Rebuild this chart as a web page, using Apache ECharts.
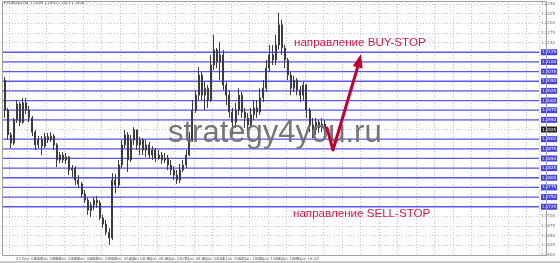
<!DOCTYPE html>
<html><head><meta charset="utf-8">
<script src="https://cdn.jsdelivr.net/npm/echarts@6/dist/echarts.min.js"></script>
<style>html,body{margin:0;padding:0;background:#fff}#c{width:560px;height:263px}</style>
</head><body><div id="c"></div>
<script>
const timeLabels = ['22 Dec 2020','23 Dec 08:00','24 Dec 08:00','28 Dec 00:00','29 Dec 00:00','30 Dec 00:00','31 Dec 00:00','4 Jan 08:00','5 Jan 08:00','6 Jan 08:00','7 Jan 08:00','8 Jan 08:00','11 Jan 16:00','12 Jan 16:00','13 Jan 16:00','14 Jan 16:00','15 Jan 16:00','19 Jan 00:00'];
const openP = [1.2053,1.1975,1.1911,1.1890,1.1950,1.1991,1.1944,1.1994,1.1975,1.1955,
1.1918,1.1885,1.1898,1.1882,1.1906,1.1898,1.1908,1.1885,1.1846,1.1859,
1.1846,1.1854,1.1820,1.1825,1.1794,1.1784,1.1758,1.1742,1.1716,1.1729,
1.1742,1.1735,1.1696,1.1680,1.1659,1.1644,1.1794,1.1781,1.1833,1.1885,
1.1911,1.1846,1.1898,1.1924,1.1885,1.1898,1.1872,1.1885,1.1859,1.1872,
1.1851,1.1859,1.1846,1.1851,1.1833,1.1820,1.1807,1.1794,1.1820,1.1833,
1.1859,1.1898,1.1975,1.2014,1.2066,1.2014,1.2032,1.2001,1.2092,1.2131,
1.2100,1.2118,1.2040,1.2014,1.1970,1.1944,1.1975,1.2014,1.1970,1.1955,
1.1937,1.1963,1.1981,1.1970,1.2007,1.2032,1.2084,1.2118,1.2105,1.2144,
1.2196,1.2136,1.2105,1.2066,1.2032,1.2053,1.2027,1.2014,1.2040,1.1975,
1.1937,1.1924,1.1944,1.1929,1.1939];
const closeP = [1.1975,1.1911,1.1890,1.1950,1.1991,1.1944,1.1994,1.1975,1.1955,1.1918,
1.1885,1.1898,1.1882,1.1906,1.1898,1.1908,1.1885,1.1846,1.1859,1.1846,
1.1854,1.1820,1.1825,1.1794,1.1784,1.1758,1.1742,1.1716,1.1729,1.1742,
1.1735,1.1696,1.1680,1.1659,1.1644,1.1794,1.1781,1.1833,1.1885,1.1911,
1.1846,1.1898,1.1924,1.1885,1.1898,1.1872,1.1885,1.1859,1.1872,1.1851,
1.1859,1.1846,1.1851,1.1833,1.1820,1.1807,1.1794,1.1820,1.1833,1.1859,
1.1898,1.1975,1.2014,1.2066,1.2014,1.2032,1.2001,1.2092,1.2131,1.2100,
1.2118,1.2040,1.2014,1.1970,1.1944,1.1975,1.2014,1.1970,1.1955,1.1937,
1.1963,1.1981,1.1970,1.2007,1.2032,1.2084,1.2118,1.2105,1.2144,1.2196,
1.2136,1.2105,1.2066,1.2032,1.2053,1.2027,1.2014,1.2040,1.1975,1.1937,
1.1924,1.1944,1.1929,1.1939,1.1926];
const highP = [1.2061,1.1981,1.1918,1.1955,1.2001,1.1996,1.2007,1.2007,1.1986,1.1960,
1.1924,1.1908,1.1908,1.1916,1.1916,1.1918,1.1913,1.1890,1.1867,1.1867,
1.1864,1.1856,1.1833,1.1830,1.1807,1.1789,1.1768,1.1748,1.1737,1.1750,
1.1753,1.1742,1.1704,1.1691,1.1670,1.1812,1.1810,1.1846,1.1898,1.1924,
1.1918,1.1911,1.1931,1.1924,1.1906,1.1903,1.1898,1.1893,1.1882,1.1877,
1.1872,1.1867,1.1864,1.1859,1.1846,1.1830,1.1820,1.1836,1.1846,1.1872,
1.1918,1.2001,1.2027,1.2087,1.2074,1.2048,1.2040,1.2118,1.2170,1.2136,
1.2152,1.2131,1.2048,1.2027,1.1981,1.1994,1.2032,1.2022,1.1981,1.1968,
1.1981,1.2001,1.2001,1.2032,1.2053,1.2105,1.2144,1.2144,1.2170,1.2227,
1.2209,1.2144,1.2110,1.2074,1.2064,1.2058,1.2038,1.2048,1.2043,1.1981,
1.1955,1.1955,1.1950,1.1955,1.1950];
const lowP = [1.1955,1.1898,1.1877,1.1885,1.1942,1.1934,1.1939,1.1965,1.1944,1.1908,
1.1872,1.1877,1.1859,1.1877,1.1890,1.1893,1.1872,1.1828,1.1838,1.1838,
1.1836,1.1807,1.1802,1.1781,1.1773,1.1748,1.1735,1.1704,1.1698,1.1716,
1.1722,1.1691,1.1670,1.1652,1.1626,1.1639,1.1760,1.1773,1.1825,1.1877,
1.1815,1.1841,1.1885,1.1872,1.1859,1.1859,1.1854,1.1851,1.1846,1.1841,
1.1846,1.1836,1.1838,1.1820,1.1807,1.1794,1.1784,1.1786,1.1815,1.1825,
1.1856,1.1893,1.1968,1.2001,1.2001,1.1975,1.1981,1.1996,1.2079,1.2084,
1.2053,1.2027,1.1988,1.1955,1.1911,1.1929,1.1963,1.1955,1.1929,1.1918,
1.1929,1.1950,1.1955,1.1963,1.1996,1.2022,1.2074,1.2092,1.2092,1.2131,
1.2118,1.2084,1.2053,1.2014,1.2022,1.2014,1.1996,1.2001,1.1955,1.1918,
1.1903,1.1911,1.1916,1.1918,1.1913];
const buyLevels = [1.2125,1.2100,1.2075,1.2050,1.2025,1.2000,1.1975,1.1950];
const sellLevels = [1.1900,1.1875,1.1850,1.1825,1.1800,1.1775,1.1750,1.1725];
const bidLevel = 1.1925;
const yMin = 1.1600, yMax = 1.2250, yStep = 0.0025;
const totalSlots = 174;
const labelEvery = 6, labelOffset = 2;
const symbolTitle = 'EURUSD,H4  1.1939 1.1950 1.1913 1.1926';
const buyText = 'направление BUY-STOP';
const sellText = 'направление SELL-STOP';
const watermark = 'strategy4you.ru';

const cats = [];
for (let i = 0; i < totalSlots; i++) {
  const k = (i - labelOffset) / labelEvery;
  if (Number.isInteger(k) && k >= 0 && k < timeLabels.length) cats.push(timeLabels[k]);
  else cats.push('#' + i);
}
const candles = openP.map((o, i) => [o, closeP[i], lowP[i], highP[i]]);
const allLevels = buyLevels.concat(sellLevels);
const blueSet = new Set(allLevels.map(v => v.toFixed(4)));

const chart = echarts.init(document.getElementById('c'), null, { renderer: 'canvas', width: 560, height: 263 });
const red = '#c4002f';
chart.setOption({
  animation: false,
  backgroundColor: '#ffffff',
  grid: { left: 3, right: 14, top: 4, bottom: 8 },
  xAxis: {
    type: 'category', data: cats, boundaryGap: true,
    axisLine: { show: false }, axisTick: { show: false },
    axisLabel: {
      interval: (i, v) => !String(v).startsWith('#'),
      formatter: v => String(v).startsWith('#') ? '' : v,
      fontSize: 4, color: '#666', margin: 2, fontFamily: 'DejaVu Sans'
    },
    splitLine: { show: true, interval: (i) => (i - labelOffset) % labelEvery === 0, lineStyle: { color: '#c4c4c4', type: [1, 2], width: 1 } }
  },
  yAxis: {
    type: 'value', position: 'right', min: yMin, max: yMax, interval: yStep,
    axisLine: { show: false }, axisTick: { show: false },
    splitLine: { show: true, lineStyle: { color: '#c4c4c4', type: [1, 2], width: 1 } },
    axisLabel: {
      fontSize: 4, color: '#666', margin: 2, fontFamily: 'DejaVu Sans',
      formatter: v => {
        const s = v.toFixed(4);
        if (blueSet.has(s)) return '{b|' + s + '}';
        if (s === bidLevel.toFixed(4)) return '{k|' + s + '}';
        return s;
      },
      rich: {
        b: { backgroundColor: '#4444e6', color: '#fff', fontSize: 4, padding: [1, 1], fontFamily: 'DejaVu Sans' },
        k: { backgroundColor: '#222', color: '#fff', fontSize: 4, padding: [1, 1], fontFamily: 'DejaVu Sans' }
      }
    }
  },
  series: [
    {
      type: 'candlestick', data: candles, barWidth: 1.5, z: 4,
      itemStyle: { color: '#3c3c3c', color0: '#3c3c3c', borderColor: '#3c3c3c', borderColor0: '#3c3c3c', borderWidth: 1 }
    },
    {
      type: 'custom', z: 3, silent: true,
      data: allLevels.map(v => [0, v]),
      renderItem: (params, api) => {
        const y = api.coord([0, api.value(1)])[1];
        const cs = params.coordSys;
        return { type: 'line', shape: { x1: cs.x, y1: y, x2: cs.x + cs.width, y2: y }, style: { stroke: '#5a5aea', lineWidth: 1.3 } };
      }
    }
  ],
  graphic: [
    { type: 'rect', shape: { x: 2.5, y: 1.5, width: 544, height: 254 }, style: { fill: 'none', stroke: '#a0a0a0', lineWidth: 1 }, z: 1 },
    { type: 'rect', shape: { x: 0, y: 261, width: 560, height: 2 }, style: { fill: '#c8c8c8' } },
    { type: 'text', x: 4, y: 3, style: { text: '▾ ' + symbolTitle, fontSize: 3.6, fill: '#333', fontFamily: 'DejaVu Sans', verticalAlign: 'middle' } },
    { type: 'text', x: 168, y: 133, z: 50, style: { text: watermark, font: '31px "Liberation Sans", Arial, sans-serif', fill: 'rgba(112,112,112,0.95)', verticalAlign: 'middle', shadowColor: 'rgba(0,0,0,0.6)', shadowBlur: 2.5, shadowOffsetX: 2, shadowOffsetY: 2 } },
    { type: 'text', x: 294, y: 43, z: 60, style: { text: buyText, font: '11.6px "Liberation Sans", Arial, sans-serif', fill: '#d2184a', verticalAlign: 'middle' } },
    { type: 'text', x: 293, y: 213.5, z: 60, style: { text: sellText, font: '11.6px "Liberation Sans", Arial, sans-serif', fill: '#d2184a', verticalAlign: 'middle' } },
    { type: 'line', z: 60, shape: { x1: 333, y1: 150, x2: 358, y2: 66 }, style: { stroke: red, lineWidth: 3 } },
    { type: 'line', z: 60, shape: { x1: 333, y1: 150, x2: 327, y2: 128 }, style: { stroke: red, lineWidth: 3, lineCap: 'round' } },
    { type: 'polygon', z: 60, shape: { points: [[361, 54], [352.8, 66], [362.6, 68.5]] }, style: { fill: red } }
  ]
});
</script></body></html>
